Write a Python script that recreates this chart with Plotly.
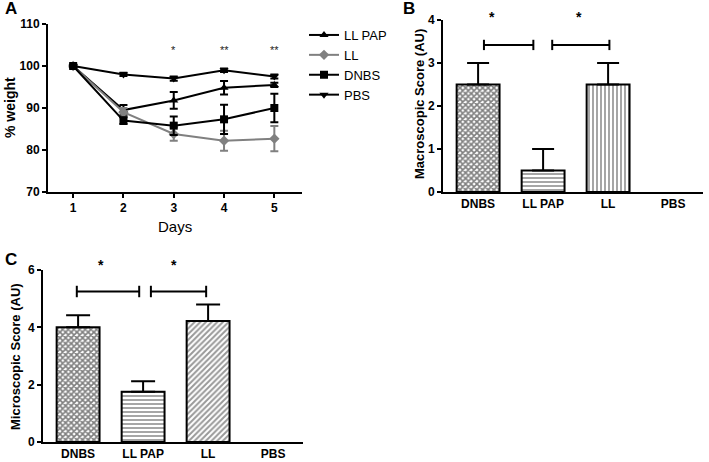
import plotly.graph_objects as go

# ---------------- data ----------------
days = [1, 2, 3, 4, 5]
ll_pap = [100, 89.5, 91.8, 94.8, 95.5]
ll_pap_err = [0.3, 1.2, 2.0, 1.6, 0.5]
ll = [100, 89.0, 83.8, 82.2, 82.7]
ll_err = [0.3, 1.0, 1.6, 2.4, 3.0]
dnbs = [100, 87.0, 85.8, 87.3, 90.0]
dnbs_err = [0.3, 0.8, 2.2, 3.5, 3.4]
pbs = [100, 98.0, 97.0, 99.0, 97.5]
pbs_err = [0.3, 0.4, 0.5, 0.4, 0.5]
sig_days = [3, 4, 5]
sig_labels = ["*", "**", "**"]

groups = ["DNBS", "LL PAP", "LL", "PBS"]
macro = [2.5, 0.5, 2.5, 0]
macro_err = [0.5, 0.5, 0.5, 0]
micro = [4.0, 1.75, 4.22, 0]
micro_err = [0.42, 0.37, 0.58, 0]

W, H = 709, 462
FONT = "Arial, Liberation Sans, sans-serif"

def px_x(p):
    return p / W

def px_y(p):
    return 1 - p / H

fig = go.Figure()

# ---------------- panel A ----------------
line_specs = [
    ("LL PAP", ll_pap, ll_pap_err, "triangle-up", "black"),
    ("LL", ll, ll_err, "diamond", "#808080"),
    ("DNBS", dnbs, dnbs_err, "square", "black"),
    ("PBS", pbs, pbs_err, "triangle-down", "black"),
]
for name, vals, err, sym, col in line_specs:
    fig.add_trace(go.Scatter(
        x=days, y=vals, name=name, mode="lines+markers",
        line=dict(color=col, width=2),
        marker=dict(symbol=sym, size=8, color=col),
        error_y=dict(type="data", array=err, color=col, thickness=2, width=4),
        xaxis="x", yaxis="y", showlegend=True,
    ))

# ---------------- panel B / C ----------------
checker = dict(shape="x", size=4, solidity=0.65, fgcolor="black", bgcolor="white")
hlines = dict(shape="-", size=4, solidity=0.35, fgcolor="black", bgcolor="white")
patterns_b = [
    checker, hlines,
    dict(shape="|", size=4, solidity=0.35, fgcolor="black", bgcolor="white"),
    dict(shape="", fgcolor="black", bgcolor="white"),
]
patterns_c = [
    checker, hlines,
    dict(shape="/", size=4, solidity=0.5, fgcolor="#333", bgcolor="white"),
    dict(shape="", fgcolor="black", bgcolor="white"),
]
xpos = list(range(len(groups)))
for i in range(len(groups)):
    if macro[i] > 0:
        fig.add_trace(go.Bar(
            x=[xpos[i]], y=[macro[i]], width=0.66,
            marker=dict(color="white", line=dict(color="black", width=2), pattern=patterns_b[i]),
            error_y=dict(type="data", array=[macro_err[i]], arrayminus=[0], symmetric=False,
                         color="black", thickness=2, width=11),
            xaxis="x2", yaxis="y2", showlegend=False,
        ))
    if micro[i] > 0:
        fig.add_trace(go.Bar(
            x=[xpos[i]], y=[micro[i]], width=0.66,
            marker=dict(color="white", line=dict(color="black", width=2), pattern=patterns_c[i]),
            error_y=dict(type="data", array=[micro_err[i]], arrayminus=[0], symmetric=False,
                         color="black", thickness=2, width=12),
            xaxis="x3", yaxis="y3", showlegend=False,
        ))

# significance brackets: (x0, x1, y, cap height, star x, star y in axis-domain units)
brackets_b = [(0.09, 0.85, 3.42, 0.12, 0.22, 1.02), (1.14, 2.02, 3.42, 0.12, 1.55, 1.02)]
brackets_c = [(-0.02, 0.94, 5.25, 0.2, 0.35, 1.03), (1.12, 1.97, 5.25, 0.2, 1.48, 1.03)]
shapes = []
annotations = []
for (brs, xr, yr) in [(brackets_b, "x2", "y2"), (brackets_c, "x3", "y3")]:
    for x0, x1, y, c, sx, sy in brs:
        ln = dict(color="black", width=2)
        shapes.append(dict(type="line", xref=xr, yref=yr, x0=x0, x1=x1, y0=y, y1=y, line=ln))
        shapes.append(dict(type="line", xref=xr, yref=yr, x0=x0, x1=x0, y0=y - c, y1=y + c, line=ln))
        shapes.append(dict(type="line", xref=xr, yref=yr, x0=x1, x1=x1, y0=y - c, y1=y + c, line=ln))
        annotations.append(dict(x=sx, y=sy, xref=xr, yref=yr + " domain", text="<b>*</b>",
                                showarrow=False, xanchor="center", yanchor="middle",
                                font=dict(size=14, color="black", family=FONT)))

for d, lab in zip(sig_days, sig_labels):
    annotations.append(dict(x=d, y=103.8, xref="x", yref="y", text=lab, showarrow=False,
                            xanchor="center", yanchor="middle",
                            font=dict(size=11, color="#222", family=FONT)))

# panel letters
for letter, xp, yp in [("A", 3, 9), ("B", 401, 9), ("C", 3, 259)]:
    annotations.append(dict(x=px_x(xp), y=px_y(yp), xref="paper", yref="paper", text=f"<b>{letter}</b>",
                            showarrow=False, xanchor="left", yanchor="middle",
                            font=dict(size=17, color="black", family=FONT)))

# axis titles drawn as annotations for precise placement
def title(x, y, text, size, angle=0):
    annotations.append(dict(x=px_x(x), y=px_y(y), xref="paper", yref="paper", text=text,
                            showarrow=False, textangle=angle, xanchor="center", yanchor="middle",
                            font=dict(size=size, color="black", family=FONT)))

title(175, 226, "Days", 15)
title(10, 108, "<b>% weight</b>", 14, -90)
title(419, 104, "<b>Macroscopic Score (AU)</b>", 13, -90)
title(15, 357, "<b>Microscopic Score (AU)</b>", 13, -90)

axis_common = dict(showline=True, linecolor="black", linewidth=2, showgrid=False, zeroline=False,
                   ticks="outside", tickcolor="black", tickwidth=2, ticklen=4, automargin=False,
                   tickfont=dict(size=12, color="black", family=FONT, weight="bold"))

fig.update_layout(
    width=W, height=H, autosize=False, margin=dict(l=0, r=0, t=0, b=0, pad=0),
    paper_bgcolor="white", plot_bgcolor="white",
    font=dict(family=FONT, color="black"),
    barmode="overlay",
    xaxis=dict(domain=[px_x(48), px_x(302)], range=[0.5, 5.55], tickvals=days,
               anchor="y", **axis_common),
    yaxis=dict(domain=[px_y(192), px_y(24)], range=[70, 110], tickvals=[70, 80, 90, 100, 110],
               anchor="x", **axis_common),
    xaxis2=dict(domain=[px_x(443), px_x(703)], range=[-0.54, 3.46], tickvals=xpos, ticktext=groups,
                anchor="y2", **{**axis_common, "ticks": ""}),
    yaxis2=dict(domain=[px_y(192), px_y(20)], range=[0, 4], tickvals=[0, 1, 2, 3, 4],
                anchor="x2", **axis_common),
    xaxis3=dict(domain=[px_x(43), px_x(303)], range=[-0.54, 3.46], tickvals=xpos, ticktext=groups,
                anchor="y3", **{**axis_common, "ticks": ""}),
    yaxis3=dict(domain=[px_y(442), px_y(270)], range=[0, 6], tickvals=[0, 2, 4, 6],
                anchor="x3", **axis_common),
    legend=dict(x=px_x(304), y=px_y(20), xanchor="left", yanchor="top",
                font=dict(size=13, color="black", family=FONT), itemwidth=30,
                tracegroupgap=0, bgcolor="rgba(0,0,0,0)"),
    shapes=shapes, annotations=annotations,
)

fig.write_html("out.html", config={"displayModeBar": False, "responsive": False},
               post_script="document.body.style.margin='0';document.body.style.overflow='hidden';")
